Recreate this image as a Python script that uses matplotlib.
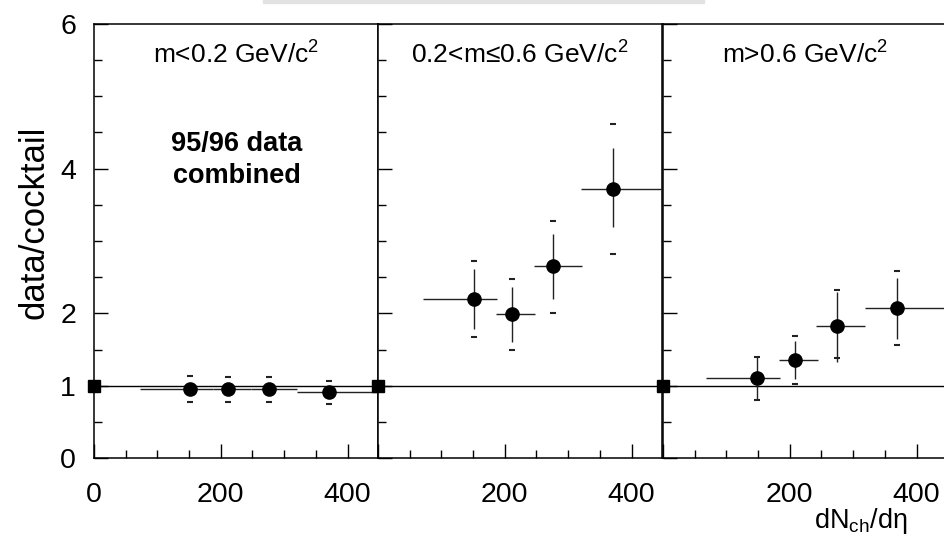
import matplotlib
import numpy as np
from matplotlib import pyplot as plt
from matplotlib.patches import Rectangle

matplotlib.use("Agg")

plt.rcParams["font.family"] = ["Liberation Sans", "DejaVu Sans"]
plt.rcParams["mathtext.fontset"] = "custom"
plt.rcParams["mathtext.rm"] = "Liberation Sans"
plt.rcParams["mathtext.it"] = "Liberation Sans:italic"

PANEL_LABELS = ["m<0.2 GeV/c$^2$", "0.2<m\u22640.6 GeV/c$^2$", "m>0.6 GeV/c$^2$"]

# dN_ch/deta centres and bin edges per mass window
x_pts = [[151, 211, 276, 370], [152, 212, 276, 371], [149, 209, 275, 369]]
x_lo = [[72, 187, 247, 320], [71, 186, 246, 321], [68, 183, 242, 318]]
x_hi = [[187, 247, 320, 448], [188, 247, 322, 448], [185, 244, 319, 448]]

# data/cocktail ratio, statistical and systematic limits
ratio = [[0.96, 0.95, 0.95, 0.91], [2.20, 1.99, 2.65, 3.72], [1.10, 1.355, 1.83, 2.08]]
stat_lo = [[0.93, 0.92, 0.92, 0.88], [1.79, 1.61, 2.20, 3.19], [0.82, 1.09, 1.33, 1.64]]
stat_hi = [[0.99, 0.98, 0.98, 0.94], [2.61, 2.37, 3.09, 4.28], [1.39, 1.62, 2.29, 2.49]]
sys_lo = [[0.78, 0.77, 0.77, 0.75], [1.67, 1.50, 2.01, 2.82], [0.80, 1.02, 1.38, 1.56]]
sys_hi = [[1.13, 1.12, 1.12, 1.07], [2.73, 2.47, 3.28, 4.62], [1.40, 1.68, 2.32, 2.58]]

ref_x = 0
ref_y = 1

Y_TICKS = [0, 1, 2, 4, 6]

W, H = 945, 539
fig = plt.figure(figsize=(W / 100, H / 100), dpi=100)
fig.patches.append(Rectangle((263 / W, 1 - 3 / H), (704 - 263) / W, 3 / H,
                             transform=fig.transFigure, color="#e2e2e2", zorder=0))

lefts = [94, 378, 663]
pw = 284
for i, left in enumerate(lefts):
    ax = fig.add_axes([left / W, 81 / H, pw / W, 434 / H])
    ax.set_xlim(0, 448)
    ax.set_ylim(0, 6)
    for s in ax.spines.values():
        s.set_linewidth(1.1)
    ax.axhline(ref_y, color="black", lw=1.0, zorder=1)

    xs = np.array(x_pts[i])
    ys = np.array(ratio[i])
    xerr = [xs - np.array(x_lo[i]), np.array(x_hi[i]) - xs]
    yerr = [ys - np.array(stat_lo[i]), np.array(stat_hi[i]) - ys]
    ax.errorbar(xs, ys, xerr=xerr, yerr=yerr, fmt="o", color="black", ms=9.5,
                ecolor="#222222", elinewidth=1.0, capsize=0, zorder=3, clip_on=False)
    ax.plot(xs, sys_lo[i], "_", color="#222222", ms=4, mew=1.5, zorder=3)
    ax.plot(xs, sys_hi[i], "_", color="#222222", ms=4, mew=1.5, zorder=3)
    ax.plot([ref_x], [ref_y], "s", color="black", ms=9, clip_on=False, zorder=5)

    ax.set_xticks([0, 200, 400])
    ax.set_xticks(np.arange(0, 449, 50), minor=True)
    ax.set_xticklabels(["0", "200", "400"] if i == 0 else ["", "200", "400"])
    ax.set_yticks(Y_TICKS)
    ax.set_yticks(np.arange(0, 6.01, 0.5), minor=True)
    if i == 0:
        ax.set_yticklabels([str(t) for t in Y_TICKS])
    else:
        ax.set_yticklabels([])
    ax.tick_params(which="both", direction="in", top=False, right=False,
                   labelsize=20.5, width=1.0, color="black")
    ax.tick_params(which="major", length=10)
    ax.tick_params(which="minor", length=5.5)
    ax.tick_params(axis="x", pad=17)
    ax.tick_params(axis="y", pad=13)

    ax.text(224, 5.45, PANEL_LABELS[i], ha="center", va="baseline", fontsize=19)
    if i == 0:
        ax.text(225, 4.12, "95/96 data\ncombined", ha="center", va="center",
                fontsize=19.5, fontweight="bold", linespacing=1.3)

fig.text(34 / W, 1 - 222 / H, "data/cocktail", rotation=90, ha="center", va="center",
         fontsize=25)
fig.text(908 / W, 1 - 528 / H, "dN$_{\\rm ch}$/d\u03b7", ha="right", va="baseline",
         fontsize=19.5)

fig.savefig("out.png", dpi=100)
